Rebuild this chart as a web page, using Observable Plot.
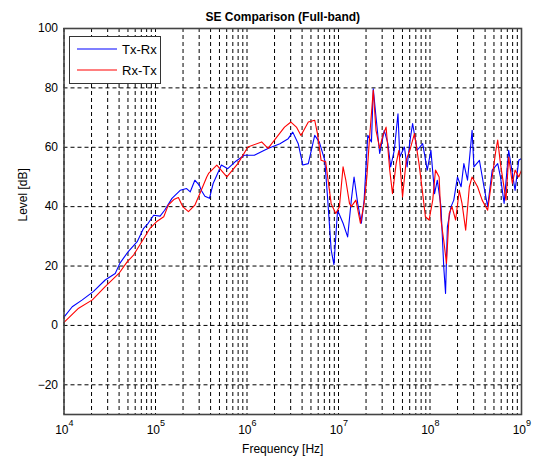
<!DOCTYPE html>
<html>
<head>
<meta charset="utf-8">
<script src="https://cdn.jsdelivr.net/npm/d3@7"></script>
<script src="https://cdn.jsdelivr.net/npm/@observablehq/plot@0.6"></script>
<style>
  html, body { margin: 0; padding: 0; background: #fff; }
  #wrap { position: relative; width: 538px; height: 463px; font-family: "Liberation Sans", Arial, sans-serif; }
  #legend { position: absolute; left: 69px; top: 36px; width: 92px; height: 48px; background: #fff; border: 1.5px solid #333; box-sizing: border-box; }
</style>
</head>
<body>
<div id="wrap"></div>
<script>
// ---- Data ----
const title = "SE Comparison (Full-band)";
const xLabel = "Frequency [Hz]";
const yLabel = "Level [dB]";
const seriesNames = ["Tx-Rx", "Rx-Tx"];
const seriesColors = ["#0000ff", "#ff0000"];

const decadeExponents = [4, 5, 6, 7, 8, 9];
const minorMultipliers = [1, 2, 3, 4, 5, 6, 7, 8, 9];
const yTicks = [-20, 0, 20, 40, 60, 80, 100];

// Tx-Rx: log10(frequency) and level in dB
const txrxLogF = [4.00,4.09,4.20,4.32,4.45,4.56,4.61,4.70,4.80,4.87,4.92,4.98,5.05,5.10,5.18,5.27,5.34,5.38,5.43,5.48,5.50,5.54,5.59,5.63,5.72,5.79,5.87,5.97,6.08,6.19,6.23,6.36,6.45,6.50,6.56,6.61,6.67,6.74,6.79,6.85,6.88,6.92,6.95,6.99,7.05,7.10,7.14,7.17,7.21,7.25,7.28,7.32,7.36,7.38,7.41,7.45,7.50,7.54,7.57,7.61,7.65,7.67,7.72,7.75,7.78,7.81,7.86,7.92,7.97,8.01,8.05,8.08,8.12,8.15,8.17,8.19,8.23,8.26,8.30,8.34,8.37,8.41,8.46,8.48,8.54,8.59,8.63,8.68,8.74,8.77,8.81,8.86,8.90,8.93,8.97,9.00];
const txrxLevel = [2.8,6.3,8.6,11.4,15.3,17.5,20.9,24.8,28.2,32.7,34.4,37.1,36.8,38.8,42.8,45.5,46.1,45.0,48.9,47.2,45.5,43.5,42.8,47.8,54.0,52.8,55.1,57.3,57.3,59.0,59.6,61.2,62.9,65.1,61.2,54.0,54.5,64.0,61.8,55.6,43.3,25.4,20.5,38.8,34.4,29.8,42.2,50.0,41.1,34.4,42.2,64.0,61.8,79.7,70.2,57.9,65.7,61.2,53.4,59.0,71.3,56.7,60.1,53.4,62.0,68.0,59.0,61.2,52.3,59.0,44.4,48.9,40.0,19.8,10.8,33.2,40.0,42.2,50.0,46.7,54.5,48.9,65.7,53.4,55.6,46.7,40.0,52.3,54.5,50.0,41.1,59.0,51.2,45.5,55.6,56.2];

// Rx-Tx: log10(frequency) and level in dB
const rxtxLogF = [4.00,4.16,4.31,4.45,4.60,4.69,4.76,4.85,4.94,5.01,5.09,5.14,5.20,5.25,5.30,5.36,5.43,5.50,5.56,5.58,5.67,5.78,5.90,6.01,6.16,6.23,6.30,6.41,6.48,6.54,6.59,6.67,6.74,6.77,6.81,6.86,6.89,6.92,6.97,7.01,7.05,7.08,7.12,7.14,7.19,7.24,7.28,7.31,7.34,7.38,7.41,7.45,7.48,7.52,7.56,7.59,7.63,7.66,7.70,7.74,7.79,7.83,7.88,7.92,7.95,7.99,8.03,8.06,8.10,8.12,8.15,8.18,8.21,8.24,8.28,8.32,8.35,8.39,8.43,8.46,8.52,8.57,8.63,8.68,8.72,8.74,8.77,8.83,8.86,8.90,8.93,8.97,9.00];
const rxtxLevel = [1.0,5.8,8.6,13.1,17.5,21.4,23.7,28.2,32.7,34.9,36.6,40.5,42.4,43.1,39.9,38.3,40.5,45.5,50.0,51.2,54.0,50.0,54.5,60.1,61.8,59.6,62.4,66.8,68.5,66.8,64.0,68.5,69.1,64.6,55.6,55.1,48.0,41.0,37.7,40.0,53.4,48.9,41.1,40.0,42.2,34.4,41.1,50.0,63.5,79.2,65.7,59.6,63.5,66.8,52.3,44.4,54.5,59.0,43.3,55.6,60.1,64.6,54.5,44.4,36.6,35.5,42.2,52.3,50.0,35.5,28.7,20.9,37.7,40.0,35.5,45.5,41.1,32.1,46.7,50.0,46.7,42.2,38.8,50.0,59.0,62.4,54.5,42.2,56.7,47.8,52.3,50.0,52.3];

// ---- Build tables ----
const txrx = txrxLogF.map((e, i) => ({f: Math.pow(10, e), level: txrxLevel[i]}));
const rxtx = rxtxLogF.map((e, i) => ({f: Math.pow(10, e), level: rxtxLevel[i]}));
const decades = decadeExponents.map(e => ({f: Math.pow(10, e), e}));
const gridFreqs = decadeExponents.slice(0, -1).flatMap(e => minorMultipliers.map(m => m * Math.pow(10, e))).concat([Math.pow(10, 9)]);

const font = "'Liberation Sans', Arial, sans-serif";

const chart = Plot.plot({
  width: 538,
  height: 463,
  marginLeft: 63.5,
  marginRight: 17,
  marginTop: 28,
  marginBottom: 49,
  style: {fontFamily: font, fontSize: "12px", background: "#fff", color: "#000"},
  x: {type: "log", domain: [1e4, 1e9]},
  y: {domain: [-30, 100]},
  marks: [
    Plot.gridX(gridFreqs, {stroke: "#000", strokeOpacity: 1, strokeDasharray: "4,3", strokeWidth: 1}),
    Plot.gridY(yTicks, {stroke: "#000", strokeOpacity: 1, strokeDasharray: "4,3", strokeWidth: 1}),
    Plot.axisY(yTicks, {tickSize: 0, tickPadding: 6, label: null, fontSize: 12}),
    Plot.axisX({ticks: [], label: null, tickSize: 0}),
    Plot.text(decades, {x: "f", text: () => "10", frameAnchor: "bottom", textAnchor: "end", dx: 4.5, dy: 19, fontSize: 12}),
    Plot.text(decades, {x: "f", text: d => String(d.e), frameAnchor: "bottom", textAnchor: "start", dx: 4.5, dy: 11, fontSize: 9}),
    Plot.line(txrx, {x: "f", y: "level", stroke: seriesColors[0], strokeWidth: 1.1}),
    Plot.line(rxtx, {x: "f", y: "level", stroke: seriesColors[1], strokeWidth: 1.1}),
    Plot.frame({stroke: "#444", strokeWidth: 1.6}),
    Plot.text([title], {frameAnchor: "top", dy: -16, dx: -10, fontWeight: "bold", fontSize: 12}),
    Plot.text([xLabel], {frameAnchor: "bottom", dy: 38, dx: -10, fontSize: 12}),
    Plot.text([yLabel], {frameAnchor: "left", dx: -41, rotate: -90, fontSize: 12})
  ]
});

const wrap = document.getElementById("wrap");
wrap.appendChild(chart);

// Legend overlay
const legend = document.createElement("div");
legend.id = "legend";
const ns = "http://www.w3.org/2000/svg";
const lsvg = document.createElementNS(ns, "svg");
lsvg.setAttribute("width", "90");
lsvg.setAttribute("height", "46");
lsvg.style.display = "block";
seriesNames.forEach((name, i) => {
  const y = 12 + i * 21;
  const line = document.createElementNS(ns, "line");
  line.setAttribute("x1", 7); line.setAttribute("x2", 47);
  line.setAttribute("y1", y); line.setAttribute("y2", y);
  line.setAttribute("stroke", seriesColors[i]);
  line.setAttribute("stroke-width", 1.2);
  lsvg.appendChild(line);
  const t = document.createElementNS(ns, "text");
  t.setAttribute("x", 52); t.setAttribute("y", y);
  t.setAttribute("dy", "0.35em");
  t.setAttribute("font-size", "13");
  t.setAttribute("font-family", font);
  t.textContent = name;
  lsvg.appendChild(t);
});
legend.appendChild(lsvg);
wrap.appendChild(legend);
</script>
</body>
</html>
